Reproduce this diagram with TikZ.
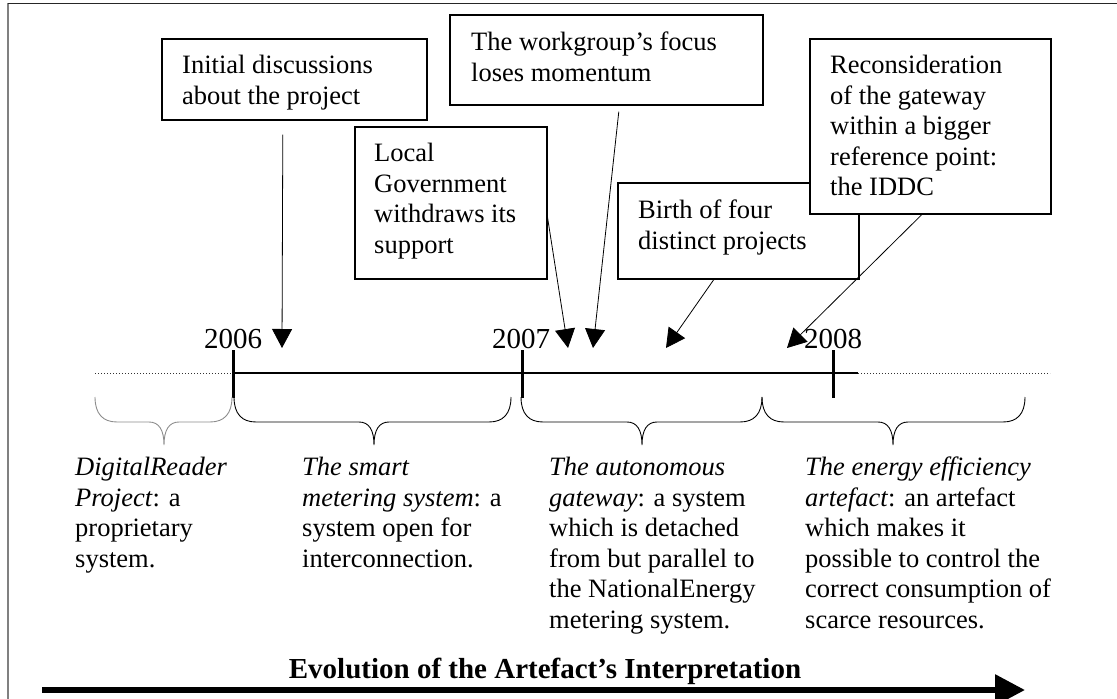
\documentclass[tikz,border=0pt]{standalone}
\usepackage{fontspec}
\setmainfont{Liberation Serif}
\usetikzlibrary{arrows.meta,calc}
\newcommand\mybrace[4]{% #1 left, #2 tip, #3 right, #4 style
  \draw[#4] (#1,397) .. controls (#1,414) and ({#1+8},422) .. ({#1+22},422)
    -- ({#2-15},422) .. controls ({#2-5},422) and (#2,430) .. (#2,445)
    .. controls (#2,430) and ({#2+5},422) .. ({#2+15},422)
    -- ({#3-22},422) .. controls ({#3-8},422) and (#3,414) .. (#3,397);}
\begin{document}
\begin{tikzpicture}[x=1pt,y=-1pt,
  box/.style={draw, line width=1.6pt, fill=white, inner sep=0pt, anchor=north west},
  txt/.style={anchor=north west, align=left, inner sep=0pt, font=\fontsize{26.5}{30.5}\selectfont},
  yr/.style={anchor=base, inner sep=0pt, font=\fontsize{29}{34}\selectfont},
  evt/.style={line width=0.8pt, -{Triangle[width=20pt,length=19pt]}},
  brc/.style={line width=0.9pt},
  dotline/.style={line width=0.9pt, black!80, dash pattern=on 0.9pt off 2.1pt},
]
\useasboundingbox (0,0) rectangle (1117,699);
% frame
\draw[gray, line width=2pt] (8,3) -- (8,699);
\draw[black!85, line width=1.5pt] (8,3.5) -- (1117,3.5);

% event boxes
\node[box, minimum width=265pt, minimum height=81pt] (init) at (161,38) {};
\node[txt] (tinit) at (182,55) {Initial discussions\\about the project};
\node[box, minimum width=313pt, minimum height=90pt] (wg) at (449,14) {};
\node[txt] (twg) at (471,32) {The workgroup’s focus\\loses momentum};
\node[box, minimum width=192pt, minimum height=152pt] (lg) at (354,126) {};
\node[txt] (tlg) at (374,143) {Local\\Government\\withdraws its\\support};
\node[box, minimum width=241pt, minimum height=96pt] (birth) at (617,182) {};
\node[txt] (tbirth) at (638,200) {Birth of four\\distinct projects};
\node[box, minimum width=241pt, minimum height=175pt] (recon) at (809,38) {};
\node[txt] (trecon) at (830,55) {Reconsideration\\of the gateway\\within a bigger\\reference point:\\the IDDC};

% event arrows
\coordinate (pinit) at (282,348);
\coordinate (plg) at (568,348);
\coordinate (pwg) at (593,348);
\coordinate (pbirth) at (666,348);
\coordinate (precon) at (787,348);
\draw[evt] ([xshift=-11.5pt,yshift=-14pt]init.south) -- (pinit);
\draw[evt] ([yshift=-15pt]lg.east) -- (plg);
\draw[evt] ([xshift=12.5pt,yshift=-6pt]wg.south) -- (pwg);
\draw[evt] ([xshift=-24.5pt]birth.south) -- (pbirth);
\draw[evt] ([xshift=-8.5pt]recon.south) -- (precon);

% years
\node[yr] (y6) at (233,348) {2006};
\node[yr] (y7) at (521,348) {2007};
\node[yr] (y8) at (833,348) {2008};

% timeline
\coordinate (l0) at (95,373);
\coordinate (t6) at (233,373);
\coordinate (t7) at (522,373);
\coordinate (t8) at (833,373);
\coordinate (l1) at (858,373);
\coordinate (l2) at (1050,373);
\draw[dotline] (l0) -- (t6);
\draw[dotline] (l1) -- (l2);
\draw[line width=2pt] (t6) -- (l1);
\foreach \t in {t6,t7,t8}
  \draw[line width=3pt] ([yshift=23pt]\t) -- ([yshift=-25pt]\t);

% braces
\mybrace{95}{164}{232}{brc, black!45}
\mybrace{234}{374}{511}{brc}
\mybrace{521}{642}{762}{brc}
\mybrace{762}{893}{1025}{brc}

% interpretations
\node[txt] (i1) at (75,457) {\textit{DigitalReader}\\\textit{Project}: a\\proprietary\\system.};
\node[txt] (i2) at (302,457) {\textit{The smart}\\\textit{metering system}: a\\system open for\\interconnection.};
\node[txt] (i3) at (549,457) {\textit{The autonomous}\\\textit{gateway}: a system\\which is detached\\from but parallel to\\the NationalEnergy\\metering system.};
\node[txt] (i4) at (805,457) {\textit{The energy efficiency}\\\textit{artefact}: an artefact\\which makes it\\possible to control the\\correct consumption of\\scarce resources.};

% title and big arrow
\node[anchor=base, inner sep=0pt, font=\bfseries\fontsize{29}{34}\selectfont] (title) at (545,678) {Evolution of the Artefact’s Interpretation};
\coordinate (ea) at (42,690);
\coordinate (eb) at (1025,690);
\draw[line width=6pt, -{Triangle[length=30pt,width=30pt]}] (ea) -- (eb);
\end{tikzpicture}
\end{document}
